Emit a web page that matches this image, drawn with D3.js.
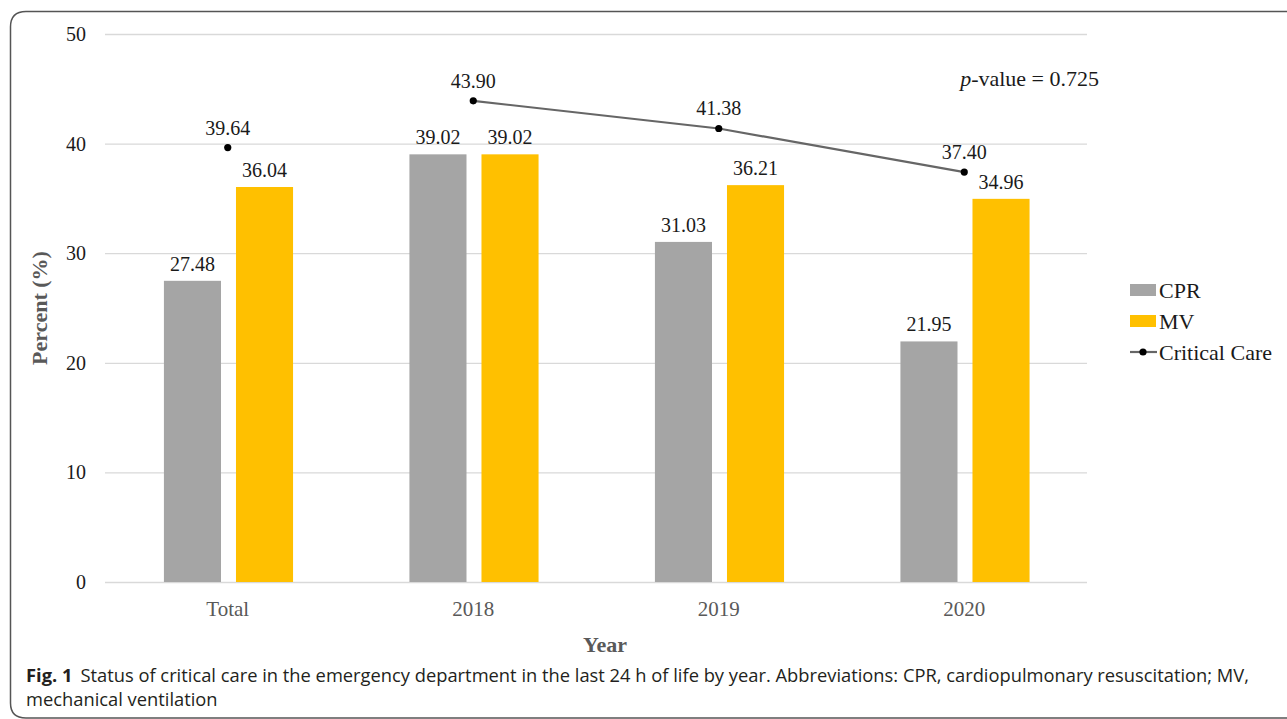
<!DOCTYPE html>
<html><head><meta charset="utf-8">
<script src="https://cdn.jsdelivr.net/npm/d3@7"></script>
<style>body{margin:0;background:#fff}svg{display:block}</style>
</head><body>
<svg id="c" width="1287" height="719"></svg>
<script>
const categories = ["Total", "2018", "2019", "2020"];
const series = ["CPR", "MV"];
const cprValues = [27.48, 39.02, 31.03, 21.95];
const mvValues = [36.04, 39.02, 36.21, 34.96];
const criticalCare = [39.64, 43.90, 41.38, 37.40];
const yTicks = [0, 10, 20, 30, 40, 50];
const colors = {CPR: "#A5A5A5", MV: "#FFC000", line: "#666666"};

const svg = d3.select("#c");
const serif = "'Liberation Serif','Times New Roman',serif";

// frame
svg.append("path")
  .attr("d", "M1300,11.5 L26,11.5 Q10.5,11.5 10.5,27 L10.5,703 Q10.5,718 26,718 L1300,718")
  .attr("fill", "none").attr("stroke", "#555").attr("stroke-width", 1.5);

const x = d3.scaleBand().domain(categories).range([105, 1087]).padding(0);
const y = d3.scaleLinear().domain([0, 50]).range([582, 34]);
const bw = x.bandwidth();
const xs = d3.scaleBand().domain(series).range([bw * 0.24, bw * 0.766]).paddingInner(0.208).paddingOuter(0);

// grid
svg.append("g").selectAll("line").data(yTicks).join("line")
  .attr("x1", 105).attr("x2", 1087)
  .attr("y1", d => y(d) + 0.5).attr("y2", d => y(d) + 0.5)
  .attr("stroke", "#D9D9D9").attr("stroke-width", 1.3);

// y axis labels
const yAxis = svg.append("g").attr("transform", "translate(86,0)")
  .call(d3.axisLeft(y).tickValues(yTicks).tickSize(0).tickPadding(0));
yAxis.select(".domain").remove();
yAxis.selectAll("text").attr("font-family", serif).attr("font-size", 20).attr("fill", "#1a1a1a");

// x axis labels
const xAxis = svg.append("g").attr("transform", "translate(0,601)")
  .call(d3.axisBottom(x).tickSize(0).tickPadding(0));
xAxis.select(".domain").remove();
xAxis.selectAll("text").attr("font-family", serif).attr("font-size", 21).attr("fill", "#595959").attr("dy", "0.71em");

// bars
const rows = categories.map((c, i) => ({cat: c, CPR: cprValues[i], MV: mvValues[i]}));
const bars = svg.append("g");
rows.forEach(r => {
  series.forEach(s => {
    const bx = x(r.cat) + xs(s);
    bars.append("rect").attr("x", bx).attr("y", y(r[s])).attr("width", xs.bandwidth())
      .attr("height", y(0) - y(r[s])).attr("fill", colors[s]);
    bars.append("text").attr("x", bx + xs.bandwidth() / 2).attr("y", y(r[s]) - 10)
      .attr("text-anchor", "middle").attr("font-family", serif).attr("font-size", 20)
      .attr("fill", "#1a1a1a").text(r[s].toFixed(2));
  });
});

// line (Total shown as separate point, years connected)
const pts = categories.map((c, i) => ({cat: c, v: criticalCare[i]}));
const cx = d => x(d.cat) + bw / 2;
svg.append("path").datum(pts.slice(1))
  .attr("d", d3.line().x(cx).y(d => y(d.v)))
  .attr("fill", "none").attr("stroke", colors.line).attr("stroke-width", 2.2);
svg.append("g").selectAll("circle").data(pts).join("circle")
  .attr("cx", cx).attr("cy", d => y(d.v)).attr("r", 3.6).attr("fill", "#000");
svg.append("g").selectAll("text").data(pts).join("text")
  .attr("x", cx).attr("y", d => y(d.v) - 13)
  .attr("text-anchor", "middle").attr("font-family", serif).attr("font-size", 20)
  .attr("fill", "#1a1a1a").text(d => d.v.toFixed(2));

// p-value
const pv = svg.append("text").attr("x", 1099).attr("y", 86).attr("text-anchor", "end")
  .attr("font-family", serif).attr("font-size", 22).attr("fill", "#1a1a1a");
pv.append("tspan").attr("font-style", "italic").text("p");
pv.append("tspan").text("-value = 0.725");

// axis titles
svg.append("text").attr("transform", "translate(47,308) rotate(-90)")
  .attr("text-anchor", "middle").attr("font-family", serif).attr("font-size", 22)
  .attr("font-weight", "bold").attr("fill", "#595959").text("Percent (%)");
svg.append("text").attr("x", 605).attr("y", 652)
  .attr("text-anchor", "middle").attr("font-family", serif).attr("font-size", 22)
  .attr("font-weight", "bold").attr("fill", "#595959").text("Year");

// legend
const lg = svg.append("g");
[["CPR", 290], ["MV", 321]].forEach(([s, ly]) => {
  lg.append("rect").attr("x", 1130).attr("y", ly - 6).attr("width", 26).attr("height", 12).attr("fill", colors[s]);
  lg.append("text").attr("x", 1159).attr("y", ly + 8).attr("font-family", serif).attr("font-size", 22)
    .attr("fill", "#1a1a1a").text(s);
});
lg.append("line").attr("x1", 1130).attr("x2", 1157).attr("y1", 352).attr("y2", 352)
  .attr("stroke", colors.line).attr("stroke-width", 2.2);
lg.append("circle").attr("cx", 1143).attr("cy", 352).attr("r", 3.6).attr("fill", "#000");
lg.append("text").attr("x", 1159).attr("y", 360).attr("font-family", serif).attr("font-size", 22)
  .attr("fill", "#1a1a1a").text("Critical Care");

// caption
const sans = "'Liberation Sans Narrow','Open Sans','Noto Sans',sans-serif";
const cap1 = svg.append("text").attr("x", 26).attr("y", 682).attr("font-family", sans).attr("font-size", 19).attr("fill", "#231f20");
cap1.append("tspan").attr("font-weight", "bold").text("Fig. 1");
cap1.append("tspan").attr("dx", 8).text("Status of critical care in the emergency department in the last 24 h of life by year. Abbreviations: CPR, cardiopulmonary resuscitation; MV,");
const cap2 = svg.append("text").attr("x", 26).attr("y", 706).attr("font-family", sans).attr("font-size", 19).attr("fill", "#231f20")
  .text("mechanical ventilation");
// fit caption width to the reference line length
const w = cap1.node().getComputedTextLength();
const target = 1216;
const fs = 19 * target / w;
cap1.attr("font-size", Math.min(fs, 21));
cap2.attr("font-size", Math.min(fs, 21));
</script>
</body></html>
